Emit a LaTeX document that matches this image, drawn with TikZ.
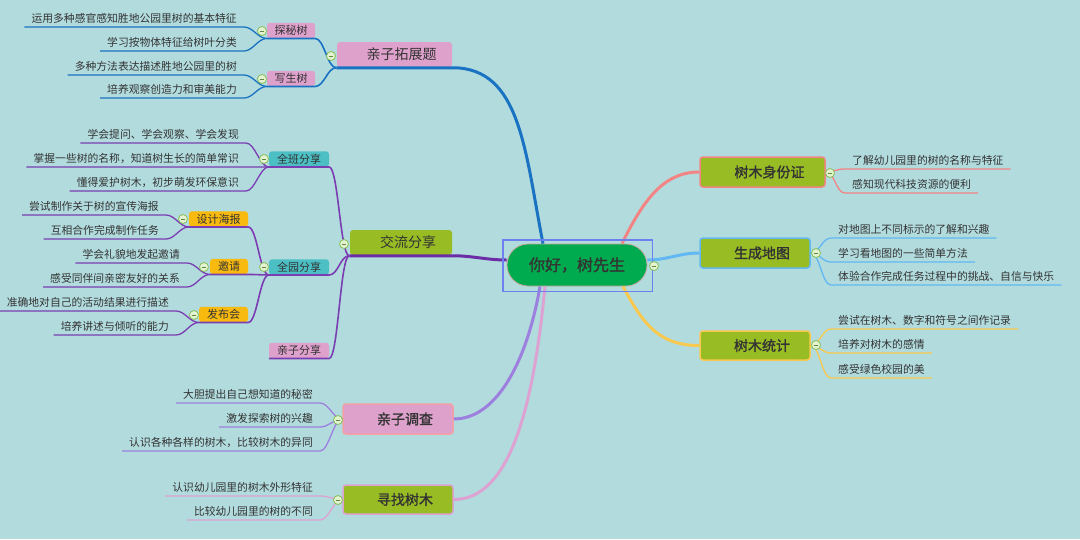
\documentclass[tikz,border=0pt]{standalone}
\usepackage{fontspec}
\setmainfont{Noto Sans CJK SC}
\newfontfamily\heavycjk[FakeBold=1.5]{Noto Sans CJK SC}
\definecolor{bg}{HTML}{B2DBDD}
\definecolor{olive}{HTML}{97BC24}
\definecolor{pinkbox}{HTML}{DDA1CB}
\definecolor{tealbox}{HTML}{4CBFC4}
\definecolor{orangebox}{HTML}{F9BA0F}
\definecolor{rootgreen}{HTML}{00AA4E}
\definecolor{rootrim}{HTML}{C9A9A0}
\definecolor{selblue}{HTML}{6E7FF0}
\definecolor{txt}{HTML}{333333}
\definecolor{lineblue}{HTML}{1A72C2}
\definecolor{linepurple}{HTML}{6B2CA6}
\definecolor{subpurple}{HTML}{7A3DB2}
\definecolor{lavender}{HTML}{9C7FDE}
\definecolor{pinkline}{HTML}{DDA2D2}
\definecolor{dcrim}{HTML}{F4A0A4}
\definecolor{salmon}{HTML}{F48484}
\definecolor{skyblue}{HTML}{62B8F2}
\definecolor{yellowline}{HTML}{F8C94E}
\definecolor{foldrim}{HTML}{86C05A}
\definecolor{foldin}{HTML}{E4F2D2}
\definecolor{foldbar}{HTML}{5E8A3C}
\begin{document}
\begin{tikzpicture}[x=1pt,y=-1pt,
  rootbox/.style={rounded corners=21pt, minimum width=140pt, minimum height=42pt, fill=rootgreen, draw=rootrim, line width=0.8pt, font=\heavycjk\fontsize{16}{18}\selectfont, text=txt},
  topic/.style={rounded corners=3pt, inner sep=0pt, minimum height=30pt, line width=1.5pt, font=\fontsize{14}{16}\selectfont, text=txt, execute at begin node=\hspace*{14pt}},
  heavy/.style={font=\heavycjk\fontsize{14}{16}\selectfont},
  sub/.style={rounded corners=3pt, inner sep=0pt, minimum height=15.5pt, font=\fontsize{11}{13}\selectfont, text=txt},
  leaf/.style={font=\fontsize{10.8}{13}\selectfont, text=txt, inner xsep=7pt, inner ysep=2.5pt, text height=8pt, text depth=2pt},
  fold/.style={circle, draw=foldrim, fill=foldin, line width=0.8pt, minimum size=9pt, inner sep=0pt,
    path picture={\draw[foldbar, line width=1pt] ([xshift=-2.3pt]path picture bounding box.center) -- ([xshift=2.3pt]path picture bounding box.center);}},
  trunk/.style={line width=3pt},
  limb/.style={line width=1.6pt},
  twig/.style={line width=1.3pt},
  bendl/.style={out=180, in=0, distance=9pt},
  bendr/.style={out=0, in=180, distance=9pt}]
\fill[bg] (0,0) rectangle (1080,539);
\useasboundingbox (0,0) rectangle (1080,539);

\node[rootbox] (root) at (577,265) {你好，树先生};

\node[topic, heavy, fill=olive, draw=salmon, minimum width=125pt] (sf) at (762.5,172) {树木身份证};
\node[topic, heavy, fill=olive, draw=skyblue, minimum width=110pt] (dt) at (755,253) {生成地图};
\node[topic, heavy, fill=olive, draw=yellowline, minimum width=110pt, minimum height=29pt] (tj) at (755,345.5) {树木统计};
\node[topic, fill=pinkbox, minimum width=115pt, minimum height=25pt] (tz) at (394.5,54.5) {亲子拓展题};
\node[topic, fill=olive, minimum width=102pt, minimum height=25pt] (jl) at (401,242.5) {交流分享};
\node[topic, heavy, fill=pinkbox, draw=dcrim, minimum width=110pt] (dc) at (398,419) {亲子调查};
\node[topic, heavy, fill=olive, draw=pinkline, minimum width=110pt, minimum height=29pt] (xz) at (398,499.5) {寻找树木};

\node[sub, fill=pinkbox, minimum width=48pt] (tms) at (291,30.5) {探秘树};
\node[sub, fill=pinkbox, minimum width=48pt] (xss) at (291,78.5) {写生树};
\node[sub, fill=tealbox, minimum width=60pt] (qb) at (299,159) {全班分享};
\node[sub, fill=tealbox, minimum width=60pt] (qy) at (299,267) {全园分享};
\node[sub, fill=pinkbox, minimum width=60pt] (qz) at (299,350.5) {亲子分享};
\node[sub, fill=orangebox, minimum width=59pt] (sj) at (218.5,219) {设计海报};
\node[sub, fill=orangebox, minimum width=38pt] (yq) at (229,266.5) {邀请};
\node[sub, fill=orangebox, minimum width=49pt] (fb) at (223.5,314.5) {发布会};

\node[leaf, anchor=south west] (sf1) at (845,169) {了解幼儿园里的树的名称与特征};
\node[leaf, anchor=south west] (sf2) at (845,193) {感知现代科技资源的便利};
\node[leaf, anchor=south west] (dt1) at (831,238) {对地图上不同标示的了解和兴趣};
\node[leaf, anchor=south west] (dt2) at (831,262) {学习看地图的一些简单方法};
\node[leaf, anchor=south west] (dt3) at (831,285) {体验合作完成任务过程中的挑战、自信与快乐};
\node[leaf, anchor=south west] (tj1) at (831,329) {尝试在树木、数字和符号之间作记录};
\node[leaf, anchor=south west] (tj2) at (831,353) {培养对树木的感情};
\node[leaf, anchor=south west] (tj3) at (831,378) {感受绿色校园的美};

\node[leaf, anchor=south east] (tms1) at (244,27) {运用多种感官感知胜地公园里树的基本特征};
\node[leaf, anchor=south east] (tms2) at (244,51) {学习按物体特征给树叶分类};
\node[leaf, anchor=south east] (xss1) at (244,75) {多种方法表达描述胜地公园里的树};
\node[leaf, anchor=south east] (xss2) at (244,98) {培养观察创造力和审美能力};
\node[leaf, anchor=south east] (qb1) at (246,143) {学会提问、学会观察、学会发现};
\node[leaf, anchor=south east] (qb2) at (246,167) {掌握一些树的名称，知道树生长的简单常识};
\node[leaf, anchor=south east] (qb3) at (246,191) {懂得爱护树木，初步萌发环保意识};
\node[leaf, anchor=south east] (sj1) at (166,215) {尝试制作关于树的宣传海报};
\node[leaf, anchor=south east] (sj2) at (166,239) {互相合作完成制作任务};
\node[leaf, anchor=south east] (yq1) at (187,263) {学会礼貌地发起邀请};
\node[leaf, anchor=south east] (yq2) at (187,287) {感受同伴间亲密友好的关系};
\node[leaf, anchor=south east] (fb1) at (176,311) {准确地对自己的活动结果进行描述};
\node[leaf, anchor=south east] (fb2) at (176,335) {培养讲述与倾听的能力};
\node[leaf, anchor=south east] (dc1) at (320,403) {大胆提出自己想知道的秘密};
\node[leaf, anchor=south east] (dc2) at (320,427) {激发探索树的兴趣};
\node[leaf, anchor=south east] (dc3) at (320,451) {认识各种各样的树木，比较树木的异同};
\node[leaf, anchor=south east] (xz1) at (320,496) {认识幼儿园里的树木外形特征};
\node[leaf, anchor=south east] (xz2) at (320,520) {比较幼儿园里的树的不同};

\draw[trunk, lineblue] ([xshift=-34pt]root.north) .. controls +(-18,-92) and +(68,0) .. (tz.south east) -- (tz.south west);
\draw[trunk, linepurple] ([yshift=5pt]root.west) .. controls +(-20,0) and +(20,0) .. (jl.south east) -- (jl.south west);
\draw[trunk, lavender] ([xshift=-37pt]root.south) .. controls +(-12,70) and +(45,0) .. (dc.east);
\draw[trunk, pinkline] ([xshift=-32pt]root.south) .. controls +(-12,125) and +(55,0) .. (xz.east);
\draw[trunk, salmon] ([xshift=45pt]root.north) .. controls +(22,-45) and +(-35,0) .. (sf.west);
\draw[trunk, skyblue] ([yshift=5pt]root.east) .. controls +(20,0) and +(-20,0) .. (dt.west);
\draw[trunk, yellowline] ([xshift=46pt]root.south) .. controls +(20,38) and +(-40,0) .. (tj.west);

\draw[limb, lineblue] (tz.south west) to[bendl] (tms.south east) -- (tms.south west);
\draw[limb, lineblue] (tz.south west) to[bendl] (xss.south east) -- (xss.south west);
\draw[limb, subpurple] (jl.south west) to[bendl] (qb.south east) -- (qb.south west);
\draw[limb, subpurple] (jl.south west) to[bendl] (qy.south east) -- (qy.south west);
\draw[limb, subpurple] (jl.south west) to[bendl] (qz.south east) -- (qz.south west);
\draw[limb, subpurple] (qy.south west) to[bendl] (sj.south east) -- (sj.south west);
\draw[limb, subpurple] (qy.south west) to[bendl] (yq.south east) -- (yq.south west);
\draw[limb, subpurple] (qy.south west) to[bendl] (fb.south east) -- (fb.south west);

\draw[twig, salmon] (sf.east) to[bendr] (sf1.south west) -- (sf1.south east);
\draw[twig, salmon] (sf.east) to[bendr] (sf2.south west) -- (sf2.south east);
\draw[twig, skyblue] (dt.east) to[bendr] (dt1.south west) -- (dt1.south east);
\draw[twig, skyblue] (dt.east) to[bendr] (dt2.south west) -- (dt2.south east);
\draw[twig, skyblue] (dt.east) to[bendr] (dt3.south west) -- (dt3.south east);
\draw[twig, yellowline] (tj.east) to[bendr] (tj1.south west) -- (tj1.south east);
\draw[twig, yellowline] (tj.east) to[bendr] (tj2.south west) -- (tj2.south east);
\draw[twig, yellowline] (tj.east) to[bendr] (tj3.south west) -- (tj3.south east);

\draw[twig, lineblue] (tms.south west) to[bendl] (tms1.south east) -- (tms1.south west);
\draw[twig, lineblue] (tms.south west) to[bendl] (tms2.south east) -- (tms2.south west);
\draw[twig, lineblue] (xss.south west) to[bendl] (xss1.south east) -- (xss1.south west);
\draw[twig, lineblue] (xss.south west) to[bendl] (xss2.south east) -- (xss2.south west);
\draw[twig, subpurple] (qb.south west) to[bendl] (qb1.south east) -- (qb1.south west);
\draw[twig, subpurple] (qb.south west) to[bendl] (qb2.south east) -- (qb2.south west);
\draw[twig, subpurple] (qb.south west) to[bendl] (qb3.south east) -- (qb3.south west);
\draw[twig, subpurple] (sj.south west) to[bendl] (sj1.south east) -- (sj1.south west);
\draw[twig, subpurple] (sj.south west) to[bendl] (sj2.south east) -- (sj2.south west);
\draw[twig, subpurple] (yq.south west) to[bendl] (yq1.south east) -- (yq1.south west);
\draw[twig, subpurple] (yq.south west) to[bendl] (yq2.south east) -- (yq2.south west);
\draw[twig, subpurple] (fb.south west) to[bendl] (fb1.south east) -- (fb1.south west);
\draw[twig, subpurple] (fb.south west) to[bendl] (fb2.south east) -- (fb2.south west);
\draw[twig, lavender] (dc.west) to[bendl] (dc1.south east) -- (dc1.south west);
\draw[twig, lavender] (dc.west) to[bendl] (dc2.south east) -- (dc2.south west);
\draw[twig, lavender] (dc.west) to[bendl] (dc3.south east) -- (dc3.south west);
\draw[twig, pinkline] (xz.west) to[bendl] (xz1.south east) -- (xz1.south west);
\draw[twig, pinkline] (xz.west) to[bendl] (xz2.south east) -- (xz2.south west);

\draw[selblue, line width=1.8pt] ([shift={(-4pt,4pt)}]root.north west) rectangle ([shift={(5pt,-5pt)}]root.south east);

\node[fold] (froot) at (654,266) {};
\node[fold] (fsf) at (830,173) {};
\node[fold] (fdt) at (816,253) {};
\node[fold] (ftj) at (816,345) {};
\node[fold] (ftz) at (331,56) {};
\node[fold] (ftms) at (262,31) {};
\node[fold] (fxss) at (262,79) {};
\node[fold] (fjl) at (344,244) {};
\node[fold] (fqb) at (264,159) {};
\node[fold] (fqy) at (264,267) {};
\node[fold] (fsj) at (183,219) {};
\node[fold] (fyq) at (204,267) {};
\node[fold] (ffb) at (194,315) {};
\node[fold] (fdc) at (338,420) {};
\node[fold] (fxz) at (338,500) {};
\end{tikzpicture}
\end{document}
